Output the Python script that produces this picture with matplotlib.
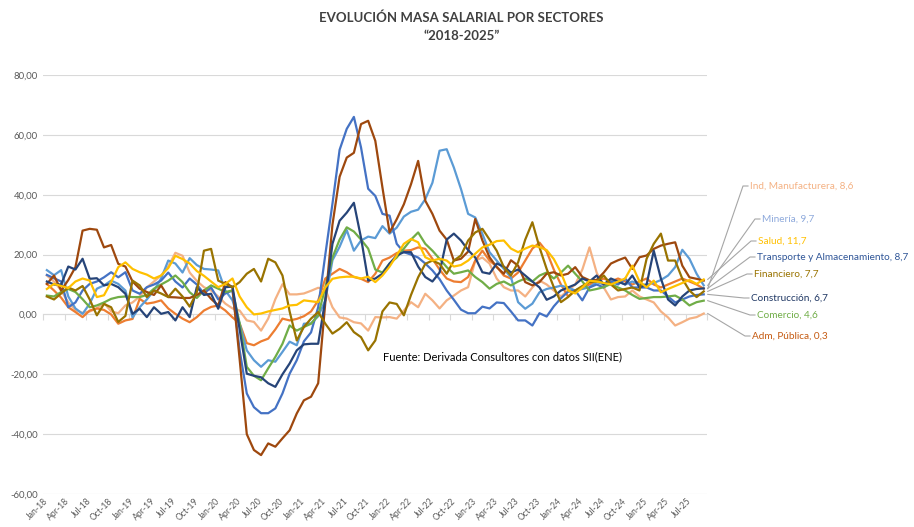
import matplotlib
matplotlib.use("Agg")
import matplotlib.pyplot as plt
from matplotlib.lines import Line2D

plt.rcParams['font.family'] = ['Lato', 'DejaVu Sans']

# monthly categories Jan-18 .. Sep-25
MONTHS = ['Jan', 'Feb', 'Mar', 'Apr', 'May', 'Jun', 'Jul', 'Aug', 'Sep', 'Oct', 'Nov', 'Dec']
periods = [f"{MONTHS[i % 12]}-{18 + i // 12}" for i in range(93)]

# variacion anual masa salarial (%), one row per year
mineria = [14.8, 13.1, 14.8, 6, 2, 0.2, 3.6, 8.6, 9.7, 11.3, 10.2, 8,
           -1, 2.4, 5, 8, 12, 18, 17, 14, 18.8, 16.5, 15.2, 15,
           14.7, 8, 4.7, -3, -12, -15.3, -17.5, -15.3, -15.8, -12.5, -9.1, -10.3,
           -3.1, -3, -0.6, 4.7, 18.1, 22.6, 28.2, 21.3, 24.7, 26, 25.5, 29.5,
           27, 29, 32.7, 34.3, 35, 38.5, 44, 54.7, 55.2, 49.1, 41.9, 33.6,
           32.4, 26.9, 20.8, 18, 15.2, 12.4, 4.1, 1.9, 3.6, 7.4, 8.5, 9,
           9.6, 9, 8, 8.5, 9.1, 10.8, 10, 11, 11, 10, 11, 10,
           10, 10.5, 11.5, 13, 15.8, 21.6, 18.6, 13.6, 9.7]
construccion = [13.2, 12.1, 11, 2.4, 4, 8, 10.2, 11, 12.4, 14.1, 12.4, 14.1,
                8, 6.9, 9.1, 10, 11.3, 14, 11, 9, 12, 10, 7, 9,
                5, 7, 8, -12, -26.4, -31, -33, -33, -31.4, -26.4, -19.8, -15.3,
                -9, -6, 2.4, 20, 37, 55, 62, 66, 55.8, 42, 39.6, 33.6,
                33, 23.6, 20.8, 20, 19, 17, 14.7, 11.8, 8, 4.9, 1.6, 0.4,
                0.4, 2.6, 2, 4, 3.8, 1, -2, -2, -3.7, 0.4, -0.7, 2.7,
                5.4, 7.6, 8, 4.7, 9, 10, 9, 11, 10, 12, 9, 9,
                9, 8, 8, 6, 4, 5, 6, 6.5, 6.7]
transporte = [11, 10, 10, 16, 15, 18.6, 11.9, 12.1, 9.7, 10.2, 9.1, 6.9,
              0.2, 1.9, -0.9, 2.4, 0.2, 0.8, -2, 2.4, -0.9, 9.1, 6.5, 6.9,
              1.9, 9.1, 9.3, -5, -19.8, -20.5, -21, -23, -24.2, -20, -16.4, -12,
              -10, -9.8, -9.8, 5, 23.6, 31.3, 34, 37.3, 25.6, 11.3, 12, 13.6,
              17, 19.7, 20.8, 20.8, 16, 12.5, 11, 14, 25, 27, 24.7, 21.5,
              19, 14.1, 13.6, 17, 16, 14, 15, 13, 11, 9, 4.9, 6,
              8, 9, 10, 12, 11, 13, 10, 12, 11, 10, 13, 9,
              10, 21.3, 12, 5, 3, 6, 8, 8.5, 8.7]
salud = [8.5, 10.2, 9.5, 8.8, 11, 12, 11.3, 5.8, 6.4, 10.8, 15.8, 17.4,
         15.2, 14.1, 13.3, 12, 13, 15.5, 19.6, 18.5, 17, 14.5, 12.9, 11,
         9.1, 10.2, 12, 6, 2.4, 0, 0.3, 1, 1.5, 2, 3, 3.2,
         4.7, 4.4, 4.1, 9, 11.9, 12.4, 12.6, 12.6, 12, 12.6, 10.8, 13,
         16, 19.7, 23.6, 25.2, 24.1, 19.1, 18, 18.6, 18, 16, 16.5, 18,
         20.3, 22.4, 23.3, 24.5, 24.7, 22, 20.8, 22, 23, 22.5, 21.5, 18.5,
         14, 8, 7, 9, 11.3, 11, 10.5, 10, 11, 12, 16.3, 11,
         9, 11.3, 7.4, 8.5, 9.5, 10.5, 11.5, 10.2, 11.7]
financiero = [6, 5, 7, 9, 8, 9.5, 5, -0.3, 3.5, 2.4, -2.5, -0.5,
              11.3, 9.7, 5.8, 8, 7, 5.8, 8.6, 6, 2.6, 7.4, 21.3, 21.9,
              11.3, 10.2, 9.1, 10.8, 13.6, 15.2, 11, 18.6, 17.4, 13, 1, -8.7,
              -4.2, -1.4, 0.8, -3.1, -6.4, -4.8, -2.6, -5.9, -7.6, -12, -8.7, 1,
              4, 3.5, -0.3, 6.5, 12.4, 16.9, 18, 16.9, 13.6, 18, 19.7, 24.7,
              27.4, 28.6, 25, 21.3, 15.8, 13, 17.4, 25, 30.8, 22.4, 15.2, 9.1,
              4.1, 5.8, 8, 9.5, 10.8, 11, 13, 10, 8, 8.5, 9, 8,
              18.6, 23.6, 27, 18, 18, 11.9, 8, 5.8, 7.7]
comercio = [6.3, 6, 7.5, 8.5, 7.5, 5.1, 2.4, 3, 4, 5.2, 5.8, 6,
            5.8, 5.8, 6.5, 8.6, 10, 11.3, 13, 10.8, 7.4, 5.5, 8, 9.7,
            8.6, 7.5, 8, -3, -17.5, -20.5, -22, -18, -14.2, -9.8, -3.7, -5.4,
            -4.2, -3.1, -0.3, 9.1, 19, 25, 29.1, 27.7, 25, 22, 15, 14,
            17, 19, 22, 25, 27.4, 23.6, 21.3, 18.6, 15.8, 13.6, 14.1, 14.7,
            12.5, 10.8, 8.6, 10.2, 11, 9.7, 11, 12, 11, 13, 14, 12,
            14, 16.3, 13.6, 11, 8, 8.5, 9.1, 10.2, 9, 8, 6.5, 5.2,
            5.5, 5.8, 5.8, 6, 6.3, 5, 3, 4.1, 4.6]
manufactura = [10.2, 8, 5.6, 2.4, 0.8, -0.9, 1.3, 2, 1.5, 0, -3.1, -2,
               -1.5, 5.2, 3.6, 4, 4.7, 2, 0.2, -1.4, -2.6, -0.9, 1.3, 2.5,
               3, 1.3, -1, -3, -9.6, -10.3, -9, -8.1, -5, -1.4, -2, -1.5,
               -0.6, 1, 4.7, 12, 13.6, 15.2, 14.1, 12.5, 11.9, 10.8, 13.6, 18,
               19, 20.5, 21.3, 21.5, 22.4, 21.9, 18.6, 15, 12, 11, 10.8, 12.5,
               18, 21.3, 18, 16, 13, 12, 14, 18, 22, 24, 21, 15,
               10, 6, 8, 9, 10, 11, 12, 11, 12, 11, 10, 11,
               12, 10, 9, 10, 11, 12, 11, 10, 8.6]
adm_publica = [13, 11, 8, 4, 1.5, 0.5, 1, 2, 3.9, 1, 0.4, 3,
               4, 6, 9, 11, 13, 16, 20.6, 19.6, 14, 11.2, 9.1, 8,
               6, 3.6, 2, 1.3, -2, -2.5, -5.4, -1.4, 5.1, 10.1, 6.7, 6.7,
               7, 7.9, 8.9, 8.4, 2.4, -1, -1.4, -2.6, -3, -5.4, -0.9, -1,
               -0.9, -1.4, 1.3, 4.1, 2.4, 6.9, 4.7, 2, 4.7, 6.3, 8, 9.1,
               18, 19, 17, 12, 9.1, 8, 8, 6, 9, 11.3, 10, 8,
               6, 8, 10, 15, 22.4, 14, 9, 5, 5.8, 6, 8, 6,
               5, 4, 1, -1, -3.7, -2.6, -1.4, -0.9, 0.3]
otros = [10.2, 13, 8, 11.5, 15.8, 28, 28.6, 28.3, 22.4, 23.2, 16.9, 16,
         11, 8.6, 7.5, 6.5, 9.7, 5.8, 5.7, 5.5, 5.5, 6.5, 8, 5.2,
         3, 10.8, 9, -15, -40, -45.3, -47, -43.1, -44.2, -41.4, -38.7, -33.1,
         -28.7, -27.5, -23, 4, 30, 46, 52.4, 54, 63.6, 64.7, 58, 42.4,
         27.4, 31.8, 36.8, 43.5, 51.3, 38, 33.6, 28, 25, 18, 18.6, 21,
         31.9, 24.7, 19.1, 15.8, 13.6, 18.1, 16.3, 10.8, 9.7, 10.8, 13.6, 14.1,
         13, 13.6, 15.8, 12.5, 11.4, 11.5, 14, 17, 18.1, 19, 15.2, 19.1,
         19.7, 21.9, 23, 23.6, 24.1, 16.3, 12.4, 11.9, 11.3]

# data labels on the right (last value of each sector)
label_names = ["Ind. Manufacturera", "Minería", "Salud", "Transporte y Almacenamiento",
               "Financiero", "Construcción", "Comercio", "Adm. Pública"]
label_values = [8.6, 9.7, 11.7, 8.7, 7.7, 6.7, 4.6, 0.3]
label_colors = ['#F4B183', '#8FAADC', '#FFC000', '#2F5597', '#997300', '#203864', '#70AD47', '#C55A11']
label_px = [(750, 186), (762, 219), (758, 241), (757, 257), (754, 274), (751, 298), (757, 315), (752, 336)]

W, H = 914, 527
fig = plt.figure(figsize=(W / 100, H / 100), dpi=100)
ax = fig.add_axes([43.3 / W, 33 / H, 664 / W, 419 / H])

x = list(range(len(periods)))
lines = [(adm_publica, '#F4B183'), (manufactura, '#ED7D31'), (mineria, '#5B9BD5'),
         (construccion, '#4472C4'), (comercio, '#70AD47'), (otros, '#9E480E'),
         (transporte, '#264478'), (financiero, '#997300'), (salud, '#FFC000')]
for vals, col in lines:
    ax.plot(x, vals, color=col, lw=1.6, solid_joinstyle='round')

ax.set_xlim(-0.5, len(periods) - 0.5)
ax.set_ylim(-60, 80)
yt = list(range(-60, 81, 20))
ax.set_yticks(yt)
ax.set_yticklabels([f"{v:.2f}".replace('.', ',') for v in yt], fontsize=6.8, color='#595959')
ax.yaxis.grid(True, color='#d9d9d9', lw=0.8)
ax.set_axisbelow(True)
for s in ax.spines.values():
    s.set_visible(False)
ax.tick_params(axis='y', length=0, pad=4)

xt = list(range(0, len(periods), 3))
ax.set_xticks(xt)
ax.set_xticklabels([periods[i] for i in xt], rotation=45, ha='right', va='center',
                   rotation_mode='anchor', fontsize=6.2, color='#595959')
ax.tick_params(axis='x', length=0, pad=4)

# horizontal axis line crossing at zero, with tick marks between categories
sec = ax.secondary_xaxis(60 / 140)
sec.set_xticks([i - 0.5 for i in range(0, len(periods) + 1, 3)])
sec.set_xticklabels([])
sec.tick_params(length=4, color='#d9d9d9', width=0.8)
sec.spines['bottom'].set_color('#d9d9d9')
sec.spines['bottom'].set_linewidth(0.8)

fig.text(0.505, 1 - 18 / H, "EVOLUCIÓN MASA SALARIAL POR SECTORES", ha='center', va='center',
         fontsize=9.5, fontweight='bold', color='#404040')
fig.text(0.505, 1 - 36 / H, "\u201c2018-2025\u201d", ha='center', va='center',
         fontsize=9.5, fontweight='bold', color='#404040')
fig.text(383 / W, 1 - 357 / H, "Fuente: Derivada Consultores con datos SII(ENE)",
         ha='left', va='center', fontsize=8, color='#000000')

# labels with leader lines
fig.canvas.draw()
inv = fig.transFigure.inverted()
last = len(periods) - 1
for name, val, col, (lx, ly) in zip(label_names, label_values, label_colors, label_px):
    px, py = ax.transData.transform((last, val))
    ly_disp = H - ly
    pts = [(px + 4, py), (lx - 7, ly_disp), (lx - 2, ly_disp)]
    fpts = inv.transform(pts)
    fig.add_artist(Line2D(fpts[:, 0], fpts[:, 1], transform=fig.transFigure,
                          color='#a6a6a6', lw=0.8))
    fig.text(lx / W, 1 - ly / H, f"{name}, {val:.1f}".replace('.', ','),
             ha='left', va='center', fontsize=7.2, color=col)

fig.savefig("out.png", dpi=100)
